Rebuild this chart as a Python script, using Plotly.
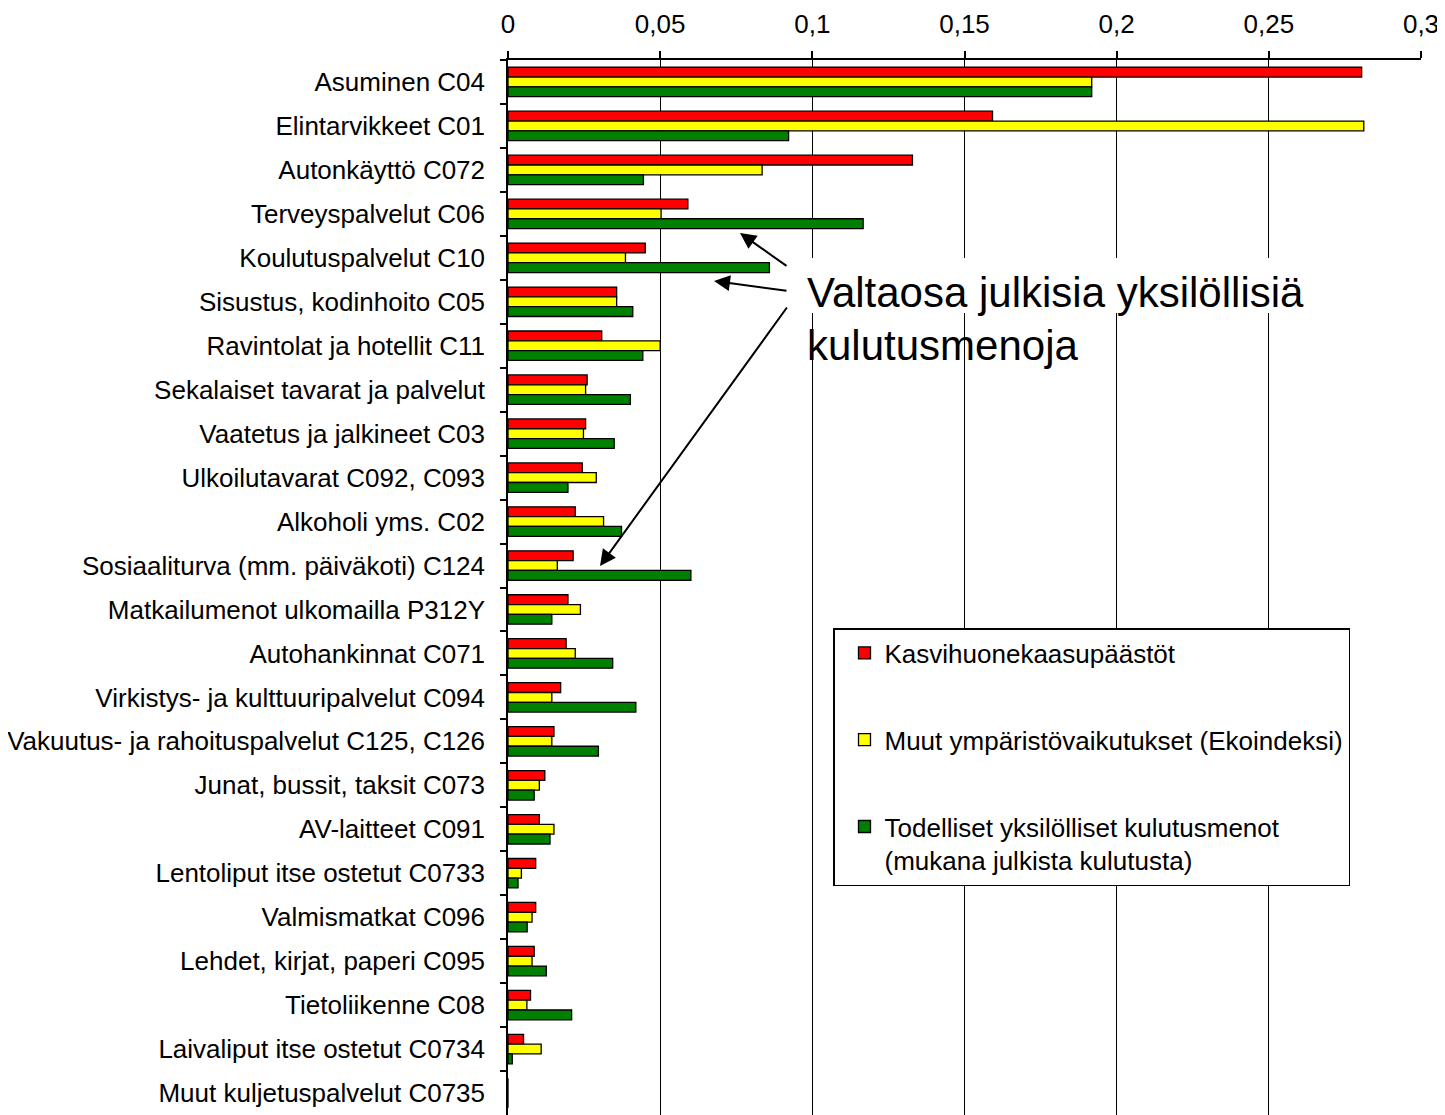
import plotly.graph_objects as go

categories = [
    "Asuminen C04", "Elintarvikkeet C01", "Autonkäyttö C072", "Terveyspalvelut C06",
    "Koulutuspalvelut C10", "Sisustus, kodinhoito C05", "Ravintolat ja hotellit C11",
    "Sekalaiset tavarat ja palvelut", "Vaatetus ja jalkineet C03", "Ulkoilutavarat C092, C093",
    "Alkoholi yms. C02", "Sosiaaliturva (mm. päiväkoti) C124", "Matkailumenot ulkomailla P312Y",
    "Autohankinnat C071", "Virkistys- ja kulttuuripalvelut C094",
    "Vakuutus- ja rahoituspalvelut C125, C126", "Junat, bussit, taksit C073",
    "AV-laitteet C091", "Lentoliput itse ostetut C0733", "Valmismatkat C096",
    "Lehdet, kirjat, paperi C095", "Tietoliikenne C08", "Laivaliput itse ostetut C0734",
    "Muut kuljetuspalvelut C0735",
]

kasvihuone = [0.2805, 0.1592, 0.1329, 0.0591, 0.0451, 0.0357, 0.0308, 0.0260, 0.0255, 0.0244,
              0.0221, 0.0214, 0.0197, 0.0191, 0.0173, 0.0151, 0.0121, 0.0103, 0.0091, 0.0091,
              0.0086, 0.0074, 0.0051, 0.0]
ekoindeksi = [0.1918, 0.2812, 0.0835, 0.0503, 0.0386, 0.0357, 0.0500, 0.0255, 0.0248, 0.0290,
              0.0314, 0.0162, 0.0238, 0.0221, 0.0144, 0.0144, 0.0103, 0.0151, 0.0044, 0.0079,
              0.0079, 0.0062, 0.0109, 0.0]
kulutusmenot = [0.1918, 0.0922, 0.0445, 0.1167, 0.0859, 0.0410, 0.0443, 0.0402, 0.0349, 0.0197,
                0.0373, 0.0601, 0.0144, 0.0344, 0.0420, 0.0297, 0.0086, 0.0138, 0.0033, 0.0063,
                0.0126, 0.0209, 0.0014, 0.0]

series_names = [
    "Kasvihuonekaasupäästöt",
    "Muut ympäristövaikutukset (Ekoindeksi)",
    "Todelliset yksilölliset kulutusmenot<br>(mukana julkista kulutusta)",
]
series_values = [kasvihuone, ekoindeksi, kulutusmenot]
colors = ["#FF0000", "#FFFF00", "#008000"]

x_tickvals = [0, 0.05, 0.1, 0.15, 0.2, 0.25, 0.3]
x_ticktext = ["0", "0,05", "0,1", "0,15", "0,2", "0,25", "0,3"]

note_line1 = "Valtaosa julkisia yksilöllisiä"
note_line2 = "kulutusmenoja"

FONT = "Arial, 'Liberation Sans', sans-serif"

fig = go.Figure()
for i, (name, vals, col) in enumerate(zip(series_names, series_values, colors)):
    fig.add_trace(go.Bar(
        y=categories, x=vals, name=name, orientation="h",
        marker=dict(color=col, line=dict(color="black", width=1.3)),
        legendgroup=f"g{i}",
    ))

OFF = 8  # browser body margin
W, H = 1445 - OFF, 1115 - OFF
L, R, T, B = 508 - OFF, 24, 60 - OFF, 0
pw, ph = W - L - R, H - T - B

def px(x):
    return (x - 508) / pw

def py(y):
    return 1 - (y - 60) / ph

fig.update_layout(
    width=W, height=H,
    margin=dict(l=L, r=R, t=T, b=B, pad=0),
    paper_bgcolor="white", plot_bgcolor="white",
    font=dict(family=FONT, size=26, color="black"),
    barmode="group", bargap=0.33, bargroupgap=0,
    showlegend=True,
    legend=dict(
        x=px(833), y=py(628), xanchor="left", yanchor="top",
        bgcolor="white", bordercolor="black", borderwidth=1.5,
        font=dict(family=FONT, size=26, color="black"),
        tracegroupgap=50, valign="top", traceorder="grouped",
        itemwidth=30, indentation=10,
    ),
    xaxis=dict(
        side="top", range=[0, 0.3], tickvals=x_tickvals, ticktext=x_ticktext,
        showgrid=True, gridcolor="black", gridwidth=1.2,
        showline=True, linecolor="black", linewidth=2,
        ticks="outside", ticklen=7, tickcolor="black", tickwidth=1.5,
        tickfont=dict(family=FONT, size=26), zeroline=False,
        ticklabelstandoff=8,
    ),
    yaxis=dict(
        autorange="reversed", categoryorder="array", categoryarray=categories,
        showline=True, linecolor="black", linewidth=1.5,
        ticks="outside", ticklen=6, tickcolor="black", tickwidth=1.5,
        tickson="boundaries", showgrid=False,
        tickfont=dict(family=FONT, size=26), ticklabelstandoff=16,
    ),
)

# white box behind first text line (interrupts gridlines)
fig.add_shape(type="rect", xref="paper", yref="paper",
              x0=px(786), x1=px(1445), y0=py(313), y1=py(258),
              fillcolor="white", line=dict(width=0), layer="above")

fig.add_annotation(xref="paper", yref="paper", x=px(805), y=py(293),
                   text=note_line1, showarrow=False, xanchor="left", yanchor="middle",
                   font=dict(family=FONT, size=42, color="black"))
fig.add_annotation(xref="paper", yref="paper", x=px(805), y=py(345),
                   text=note_line2, showarrow=False, xanchor="left", yanchor="middle",
                   font=dict(family=FONT, size=42, color="black"))

arrows = [((740, 233), (788, 267)), ((714, 281), (788, 291)), ((600, 566), (788, 306))]
for (hx, hy), (tx, ty) in arrows:
    fig.add_annotation(xref="paper", yref="paper", x=px(hx), y=py(hy),
                       ax=tx - hx, ay=ty - hy, text="", showarrow=True,
                       arrowhead=2, arrowsize=1.6, arrowwidth=2, arrowcolor="black",
                       standoff=0, startstandoff=0)

fig.write_html("out.html")
